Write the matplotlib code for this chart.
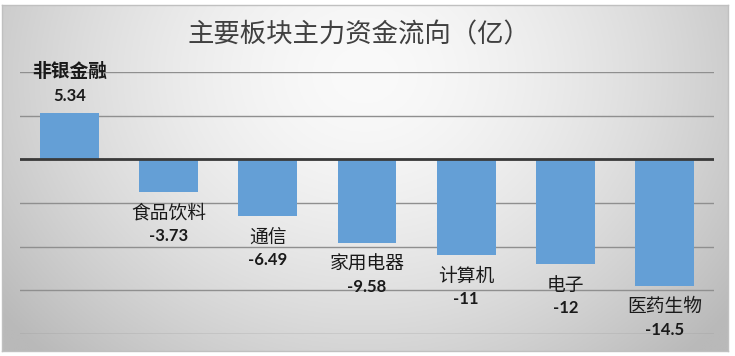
import numpy as np
import matplotlib
matplotlib.use("Agg")
import matplotlib.pyplot as plt

plt.rcParams['font.family'] = ['Noto Sans CJK SC', 'DejaVu Sans']

title = "主要板块主力资金流向（亿）"
categories = ["非银金融", "食品饮料", "通信", "家用电器", "计算机", "电子", "医药生物"]
values = [5.34, -3.73, -6.49, -9.58, -11, -12, -14.5]
value_labels = ["5.34", "-3.73", "-6.49", "-9.58", "-11", "-12", "-14.5"]

W, H = 735, 356
fig = plt.figure(figsize=(W / 100, H / 100), dpi=100, facecolor='white')

# chart background with radial gradient
bx0, bx1, by0, by1 = 2, 728, 5, 351
bg = fig.add_axes([bx0 / W, 1 - by1 / H, (bx1 - bx0) / W, (by1 - by0) / H])
ny, nx = 200, 400
yy, xx = np.mgrid[0:1:ny * 1j, 0:1:nx * 1j]
d = np.sqrt(((xx - 0.5) / 0.62) ** 2 + ((yy - 0.8) / 1.1) ** 2)
g = np.clip(250 - 62 * d ** 1.6, 185, 250) / 255.0
img = np.dstack([g, g, g])
bg.imshow(img, origin='lower', extent=[0, 1, 0, 1], aspect='auto')
bg.set_xlim(0, 1)
bg.set_ylim(0, 1)
bg.set_xticks([])
bg.set_yticks([])
for s in bg.spines.values():
    s.set_color('#c0c0c0')
    s.set_linewidth(1)

# main plot axes
px0, px1, py_top, py_bot = 20, 714, 72, 334
ax = fig.add_axes([px0 / W, 1 - py_bot / H, (px1 - px0) / W, (py_bot - py_top) / H])
ax.patch.set_alpha(0)
x = np.arange(len(categories))
ax.bar(x, values, width=0.595, color='#649fd6', zorder=3)
ax.set_xlim(-0.5, len(categories) - 0.5)
ax.set_ylim(-20, 10)
ax.set_yticks(np.arange(-20, 11, 5))
ax.yaxis.grid(True, color='#8f8f8f', linewidth=1.0, zorder=1)
ax.axhline(0, color='#3a3a3a', linewidth=2.0, zorder=4)
ax.set_xticks([])
ax.tick_params(axis='y', length=0, labelleft=False)
for s in ax.spines.values():
    s.set_visible(False)

for xi, v, name, vl in zip(x, values, categories, value_labels):
    if v >= 0:
        off_name, off_val = 41, 17
    else:
        off_name, off_val = -21, -44
    ax.annotate(name, (xi, v), xytext=(0, off_name), textcoords='offset pixels',
                ha='center', va='center', fontsize=13.5, color='#1a1a1a',
                fontweight='bold' if v >= 0 else 'medium', annotation_clip=False, zorder=5)
    ax.annotate(vl, (xi, v), xytext=(0, off_val), textcoords='offset pixels',
                ha='center', va='center', fontsize=12, color='#1a1a1a',
                fontweight='bold', family=['Lato', 'DejaVu Sans'], annotation_clip=False, zorder=5)

fig.text(359 / W, 1 - 35 / H, title, ha='center', va='center', fontsize=19, color='#404040')

fig.savefig('out.png', dpi=100, facecolor='white')
